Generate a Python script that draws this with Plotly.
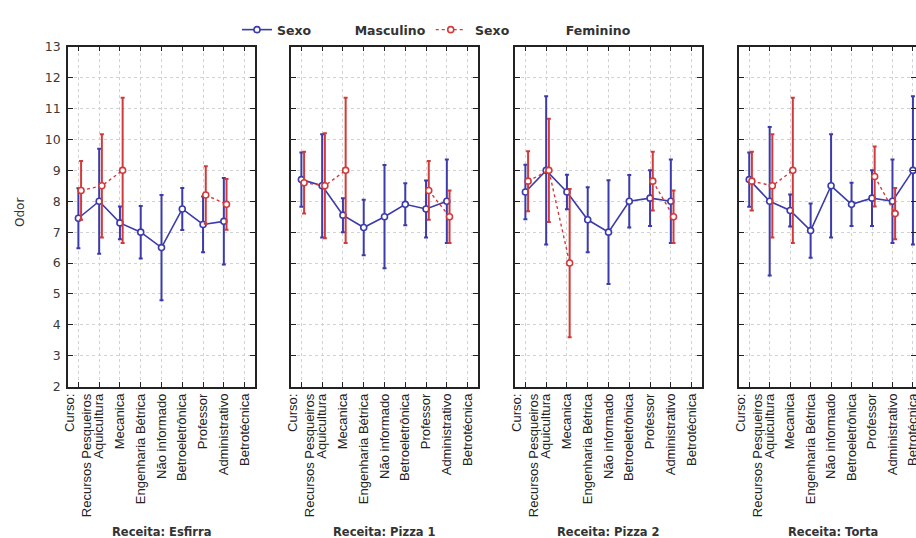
import plotly.graph_objects as go

# ---------------- data ----------------
categories = [1, 2, 3, 4, 5, 6, 7, 8, 9]
tick_labels = ["Curso:<br>Recursos Pesqueiros", "Aquicultura", "Mecanica",
               "Engenharia Bétrica", "Não informado", "Betroeletrônica",
               "Professor", "Administrativo", "Betrotécnica"]
panel_titles = ["Receita: Esfirra", "Receita: Pizza 1", "Receita: Pizza 2", "Receita: Torta"]
y_ticks = [2, 3, 4, 5, 6, 7, 8, 9, 10, 11, 12, 13]

masc_esfirra = [7.45, 8.0, 7.3, 7.0, 6.5, 7.75, 7.25, 7.35, None]
masc_esfirra_err = [0.97, 1.7, 0.53, 0.85, 1.7, 0.68, 0.9, 1.4, None]
fem_esfirra = [8.35, 8.5, 9.0, None, None, None, 8.2, 7.9, None]
fem_esfirra_err = [0.95, 1.67, 2.35, None, None, None, 0.93, 0.82, None]

masc_pizza1 = [8.7, 8.5, 7.55, 7.15, 7.5, 7.9, 7.75, 8.0, None]
masc_pizza1_err = [0.88, 1.67, 0.55, 0.9, 1.67, 0.68, 0.92, 1.35, None]
fem_pizza1 = [8.6, 8.5, 9.0, None, None, None, 8.35, 7.5, None]
fem_pizza1_err = [1.0, 1.7, 2.35, None, None, None, 0.95, 0.85, None]

masc_pizza2 = [8.3, 9.0, 8.3, 7.4, 7.0, 8.0, 8.1, 8.0, None]
masc_pizza2_err = [0.88, 2.4, 0.56, 1.05, 1.68, 0.85, 0.9, 1.35, None]
fem_pizza2 = [8.65, 9.0, 6.0, None, None, None, 8.65, 7.5, None]
fem_pizza2_err = [0.97, 1.67, 2.4, None, None, None, 0.95, 0.85, None]

masc_torta = [8.7, 8.0, 7.7, 7.05, 8.5, 7.9, 8.1, 8.0, 9.0]
masc_torta_err = [0.88, 2.4, 0.52, 0.88, 1.67, 0.7, 0.9, 1.35, 2.4]
fem_torta = [8.65, 8.5, 9.0, None, None, None, 8.8, 7.6, None]
fem_torta_err = [0.95, 1.67, 2.35, None, None, None, 0.97, 0.83, None]

masc_series = [(masc_esfirra, masc_esfirra_err), (masc_pizza1, masc_pizza1_err),
               (masc_pizza2, masc_pizza2_err), (masc_torta, masc_torta_err)]
fem_series = [(fem_esfirra, fem_esfirra_err), (fem_pizza1, fem_pizza1_err),
              (fem_pizza2, fem_pizza2_err), (fem_torta, fem_torta_err)]

# ---------------- styling / layout ----------------
W, H = 916, 538
BLUE = "#3b3bab"
RED = "#d23b3b"
fem_offset = 0.13
NB = "\u00a0"


def px_x(p):  # page pixel -> paper fraction
    return p / W


def px_y(p):
    return 1 - p / H


panel_left_px = [68, 291, 515, 739]
panel_width_px = 187
top_px, bottom_px = 46.7, 386.7

fig = go.Figure()

for i in range(4):
    xa = "x" if i == 0 else f"x{i+1}"
    ya = "y" if i == 0 else f"y{i+1}"
    mv, me = masc_series[i]
    fv, fe = fem_series[i]
    fig.add_trace(go.Scatter(
        x=categories, y=mv, xaxis=xa, yaxis=ya, mode="lines+markers",
        name="Sexo" + NB * 10 + "Masculino",
        showlegend=(i == 0), legendgroup="m",
        line=dict(color=BLUE, width=1.6),
        marker=dict(symbol="circle", size=6, color="white", line=dict(color=BLUE, width=1.6)),
        error_y=dict(type="data", array=me, color=BLUE, thickness=2, width=2),
    ))
    fig.add_trace(go.Scatter(
        x=[c + fem_offset for c in categories], y=fv, xaxis=xa, yaxis=ya, mode="lines+markers",
        name=NB + "Sexo" + NB * 13 + "Feminino",
        showlegend=(i == 0), legendgroup="f",
        line=dict(color=RED, width=1.4, dash="3px,3px"),
        marker=dict(symbol="circle", size=6, color="white", line=dict(color=RED, width=1.6)),
        error_y=dict(type="data", array=fe, color=RED, thickness=2, width=2),
    ))

ydom = [px_y(bottom_px), px_y(top_px)]
axis_common = dict(
    showline=True, linecolor="#222", linewidth=1.5, mirror="ticks",
    ticks="inside", ticklen=5, tickwidth=1.2, tickcolor="#222",
    showgrid=True, gridcolor="#d2d2d2", griddash="dot", gridwidth=1,
    zeroline=False, automargin=False,
)
layout_axes = {}
for i in range(4):
    left = panel_left_px[i]
    right = min(left + panel_width_px, W)
    xmax = 9.5 if i < 3 else 9.15
    xkey = "xaxis" if i == 0 else f"xaxis{i+1}"
    ykey = "yaxis" if i == 0 else f"yaxis{i+1}"
    layout_axes[xkey] = dict(
        axis_common, domain=[px_x(left), px_x(right)], range=[0.5, xmax],
        anchor="y" if i == 0 else f"y{i+1}",
        tickmode="array", tickvals=categories, ticktext=tick_labels, tickangle=-90,
        tickfont=dict(family="Liberation Sans, Arial", size=13, color="#222"),
        ticklabeloverflow="allow",
    )
    layout_axes[ykey] = dict(
        axis_common, domain=ydom, range=[2, 13],
        anchor="x" if i == 0 else f"x{i+1}",
        tickmode="array", tickvals=y_ticks, showticklabels=(i == 0),
        tickfont=dict(family="DejaVu Sans", size=12.5, color="#3a3a3a"),
        ticklabelstandoff=3,
    )

annotations = []
for i in range(4):
    left = panel_left_px[i]
    annotations.append(dict(
        text=f"<b>{panel_titles[i]}</b>", xref="paper", yref="paper",
        x=px_x(left + panel_width_px / 2), y=px_y(532), xanchor="center", yanchor="middle",
        showarrow=False,
        font=dict(family="DejaVu Sans", size=11.5, color="#333"),
    ))
annotations.append(dict(
    text="Odor", xref="paper", yref="paper", x=px_x(20), y=px_y(213),
    xanchor="center", yanchor="middle", textangle=-90, showarrow=False,
    font=dict(family="DejaVu Sans", size=12, color="#333"),
))

fig.update_layout(
    template="none",
    width=W, height=H, margin=dict(l=0, r=0, t=0, b=0, pad=0),
    paper_bgcolor="white", plot_bgcolor="white",
    showlegend=True,
    legend=dict(orientation="h", x=px_x(237), y=px_y(30), xanchor="left", yanchor="middle",
                font=dict(family="DejaVu Sans", size=12.5, color="#333", weight="bold"),
                bgcolor="rgba(0,0,0,0)", itemwidth=30, tracegroupgap=0),
    annotations=annotations,
    **layout_axes,
)

fig.write_html(
    "out.html",
    config={"displayModeBar": False},
    post_script="document.body.style.margin='0';document.body.style.overflow='hidden';",
)
